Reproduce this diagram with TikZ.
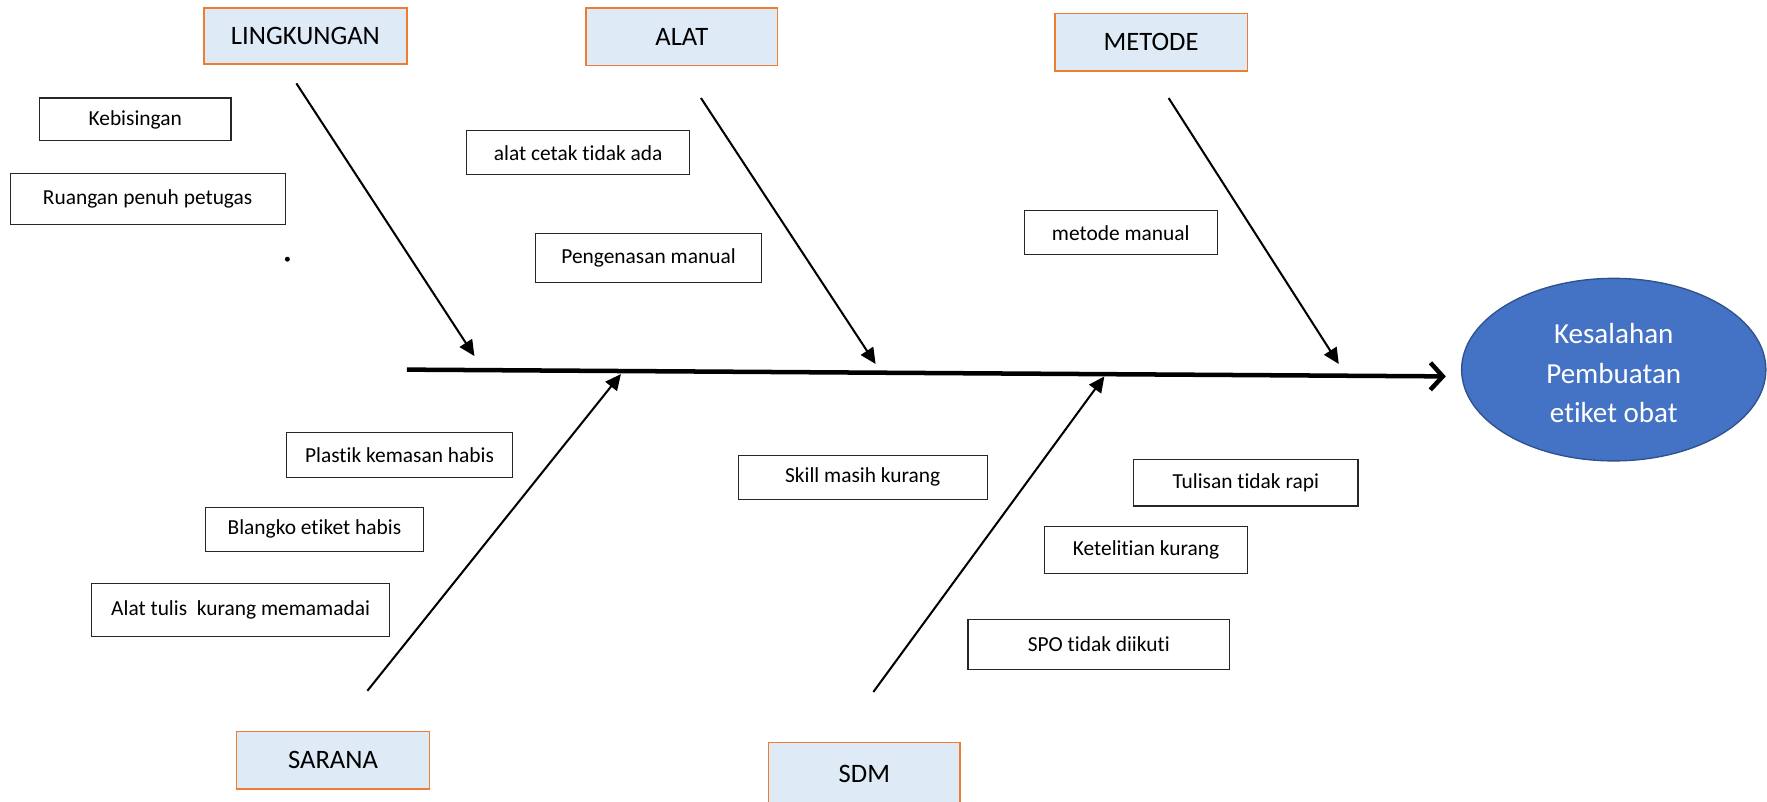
\documentclass[tikz,border=0pt]{standalone}
\usepackage{fontspec}
\setmainfont{Carlito}[Ligatures={NoCommon,NoContextual}]
\usetikzlibrary{arrows.meta,shapes.geometric}
\definecolor{catfill}{HTML}{DEEAF6}
\definecolor{catline}{HTML}{ED7D31}
\definecolor{effblue}{HTML}{4472C4}
\definecolor{effline}{HTML}{2F528F}
\begin{document}
\begin{tikzpicture}[x=0.5pt,y=-0.5pt,
  cat/.style={draw=catline, fill=catfill, line width=0.7pt, inner sep=0pt, font=\fontsize{11.8}{14}\selectfont},
  eff/.style={draw=black!85, line width=0.5pt, inner sep=0pt, font=\fontsize{9.5}{11}\selectfont},
  bone/.style={line width=0.9pt, -{Triangle[length=7pt,width=6.5pt]}},
  spine/.style={line width=2pt, -{Straight Barb[length=5.5pt,width=12pt,line width=2pt]}}
]
\useasboundingbox (0,0) rectangle (1568,711);

% category boxes
\node[cat, minimum width=90pt, minimum height=25pt] (ling) at (271,32) {LINGKUNGAN};
\node[cat, minimum width=85pt, minimum height=25.5pt] (alat) at (605,32.5) {ALAT};
\node[cat, minimum width=85.5pt, minimum height=25.5pt] (meto) at (1021.5,37.5) {METODE};
\node[cat, minimum width=85.5pt, minimum height=25.5pt] (sara) at (295.5,674.5) {SARANA};
\node[cat, minimum width=85pt, minimum height=28pt] (sdm) at (767,687) {SDM};

% cause boxes
\node[eff, minimum width=85pt, minimum height=19pt] (kebis) at (120,106) {Kebisingan};
\node[eff, minimum width=122pt, minimum height=22.5pt] (ruang) at (131,176.5) {Ruangan penuh petugas};
\node[eff, minimum width=99pt, minimum height=19.5pt] (cetak) at (513,135.5) {alat cetak tidak ada};
\node[eff, minimum width=100.5pt, minimum height=22pt] (peng) at (575.5,229) {Pengenasan manual};
\node[eff, minimum width=85.5pt, minimum height=19.5pt] (manual) at (994.5,206.5) {metode manual};
\node[eff, minimum width=100.5pt, minimum height=20pt] (plast) at (354.5,404) {Plastik kemasan habis};
\node[eff, minimum width=97pt, minimum height=19.5pt] (blang) at (279,469.5) {Blangko etiket habis};
\node[eff, minimum width=132.5pt, minimum height=23.5pt] (tulis) at (213.5,541.5) {Alat tulis\ \ kurang memamadai};
\node[eff, minimum width=110.5pt, minimum height=19.5pt] (skill) at (765.5,423.5) {Skill masih kurang};
\node[eff, minimum width=99.5pt, minimum height=20.5pt] (rapi) at (1105.5,428.5) {Tulisan tidak rapi};
\node[eff, minimum width=90pt, minimum height=21pt] (teliti) at (1017,488) {Ketelitian kurang};
\node[eff, minimum width=116pt, minimum height=22pt] (spo) at (975,572) {SPO tidak diikuti};

% effect
\node[ellipse, draw=effline, fill=effblue, line width=0.6pt, inner sep=0pt,
      minimum width=135pt, minimum height=81pt,
      text=white, font=\fontsize{12.9}{17.5}\selectfont] (eff) at (1432,328)
      {\raisebox{-1.6pt}[\height][\depth]{\parbox{66pt}{\centering Kesalahan\\Pembuatan\\etiket obat}}};

% stray dot
\fill (255,230) circle (1.1pt);

% bone coordinates
\coordinate (s0) at (361,328);
\coordinate (s1) at (1283,334);
\coordinate (l0) at (263,74);   \coordinate (l1) at (421,316);
\coordinate (a0) at (622,87);   \coordinate (a1) at (777,323);
\coordinate (m0) at (1037,87);  \coordinate (m1) at (1188,323);
\coordinate (r0) at (326,613);  \coordinate (r1) at (551,332);
\coordinate (d0) at (775,614);  \coordinate (d1) at (980,334);

\draw[spine] (s0) -- (s1);
\draw[bone] (l0) -- (l1);
\draw[bone] (a0) -- (a1);
\draw[bone] (m0) -- (m1);
\draw[bone] (r0) -- (r1);
\draw[bone] (d0) -- (d1);
\end{tikzpicture}
\end{document}
